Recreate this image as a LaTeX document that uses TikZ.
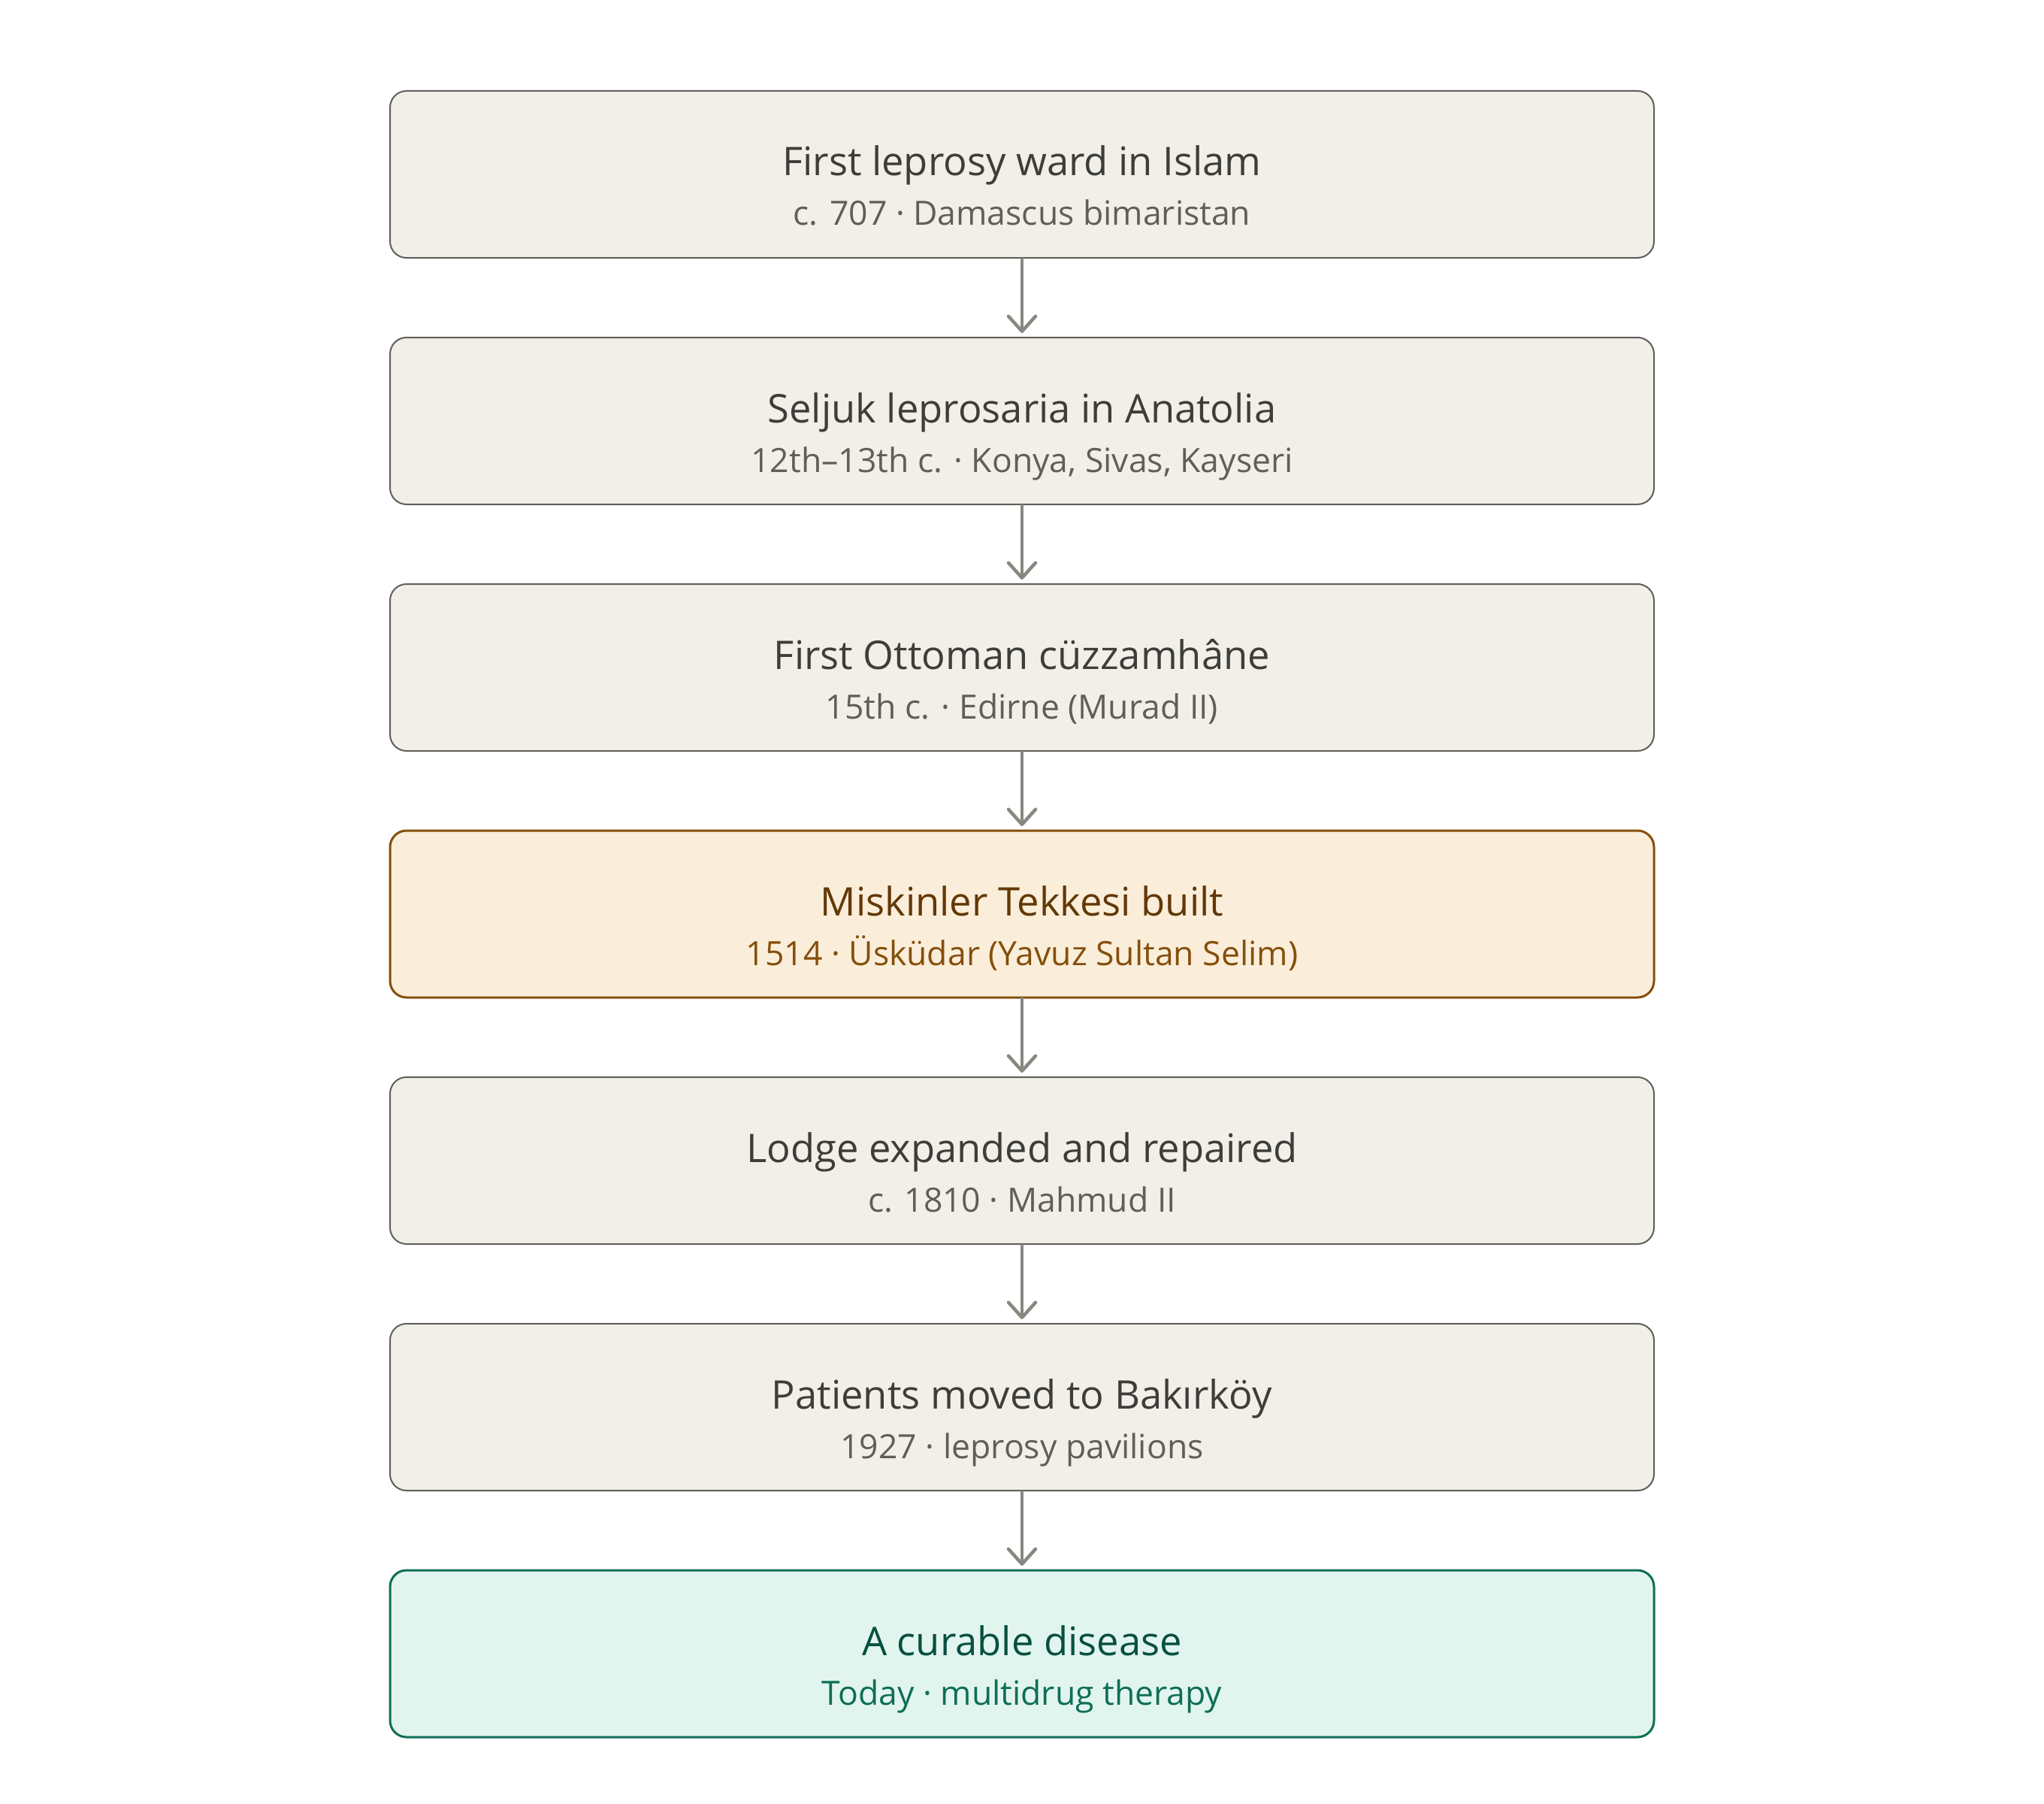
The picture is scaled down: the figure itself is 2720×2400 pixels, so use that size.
\documentclass[tikz,border=0pt]{standalone}
\usepackage{fontspec,xcolor}
\setmainfont{Open Sans}
\usetikzlibrary{arrows.meta,positioning}
\definecolor{boxfill}{HTML}{F1EFE8}
\definecolor{boxline}{HTML}{5F5E5A}
\definecolor{ink}{HTML}{3D3D3A}
\definecolor{subink}{HTML}{5F5E5A}
\definecolor{ambfill}{HTML}{FAEEDA}
\definecolor{ambline}{HTML}{854F0B}
\definecolor{ambink}{HTML}{633806}
\definecolor{tealfill}{HTML}{E1F5EE}
\definecolor{tealline}{HTML}{0F6E56}
\definecolor{tealink}{HTML}{085041}
\definecolor{arr}{HTML}{888780}

\begin{document}
\begin{tikzpicture}[x=1pt,y=1pt,node distance=106pt,
  box/.style={draw=boxline,fill=boxfill,line width=2pt,rounded corners=22pt,minimum width=1682pt,minimum height=222pt,inner sep=0pt,outer sep=0pt},
  hibox/.style={box,draw=ambline,fill=ambfill,line width=3pt},
  endbox/.style={box,draw=tealline,fill=tealfill,line width=3pt},
  title/.style={anchor=base,text=ink,font=\fontsize{52.5}{62}\selectfont},
  sub/.style={anchor=base,text=subink,font=\fontsize{44.5}{54}\selectfont},
  link/.style={draw=arr,line width=4.5pt,-{Straight Barb[length=20pt,width=36pt,round]},shorten >=6pt}]
\useasboundingbox (0,0) rectangle (2720,-2400);
\node[box] (b1) at (1360,-232) {};
\node[box,below=of b1] (b2) {};
\node[box,below=of b2] (b3) {};
\node[hibox,below=of b3] (b4) {};
\node[box,below=of b4] (b5) {};
\node[box,below=of b5] (b6) {};
\node[endbox,below=of b6] (b7) {};
% texts
\node[title] (t1) at ([yshift=-2pt]b1.center) {First leprosy ward in Islam};
\node[sub] (s1) at ([yshift=-68pt]b1.center) {c. 707 · Damascus bimaristan};
\node[title] (t2) at ([yshift=-2pt]b2.center) {Seljuk leprosaria in Anatolia};
\node[sub] (s2) at ([yshift=-68pt]b2.center) {12th–13th c. · Konya, Sivas, Kayseri};
\node[title] (t3) at ([yshift=-2pt]b3.center) {First Ottoman cüzzamhâne};
\node[sub] (s3) at ([yshift=-68pt]b3.center) {15th c. · Edirne (Murad II)};
\node[title,text=ambink] (t4) at ([yshift=-2pt]b4.center) {Miskinler Tekkesi built};
\node[sub,text=ambline] (s4) at ([yshift=-68pt]b4.center) {1514 · Üsküdar (Yavuz Sultan Selim)};
\node[title] (t5) at ([yshift=-2pt]b5.center) {Lodge expanded and repaired};
\node[sub] (s5) at ([yshift=-68pt]b5.center) {c. 1810 · Mahmud II};
\node[title] (t6) at ([yshift=-2pt]b6.center) {Patients moved to Bakırköy};
\node[sub] (s6) at ([yshift=-68pt]b6.center) {1927 · leprosy pavilions};
\node[title,text=tealink] (t7) at ([yshift=-2pt]b7.center) {A curable disease};
\node[sub,text=tealline] (s7) at ([yshift=-68pt]b7.center) {Today · multidrug therapy};
% arrows
\draw[link] (b1) -- (b2);
\draw[link] (b2) -- (b3);
\draw[link] (b3) -- (b4);
\draw[link] (b4) -- (b5);
\draw[link] (b5) -- (b6);
\draw[link] (b6) -- (b7);
\end{tikzpicture}
\end{document}
